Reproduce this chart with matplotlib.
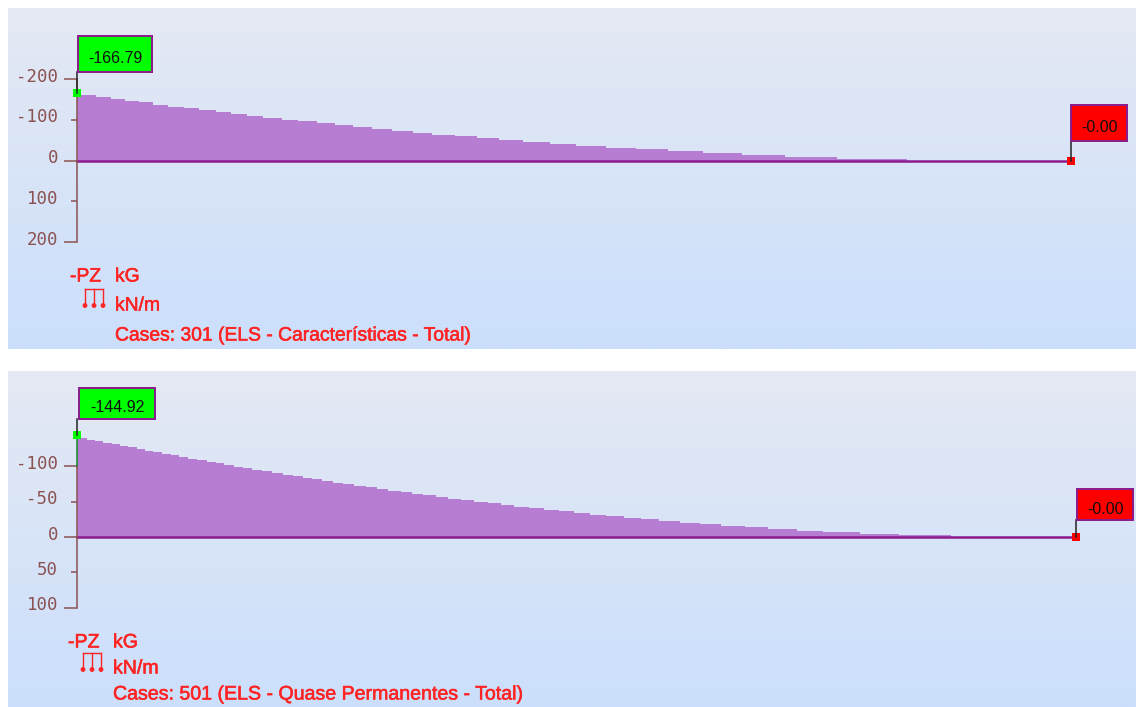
import numpy as np
import matplotlib
matplotlib.use('Agg')
import matplotlib.pyplot as plt
import matplotlib.patheffects as pe
from matplotlib.colors import LinearSegmentedColormap
from matplotlib.patches import Rectangle, Circle
from matplotlib.transforms import ScaledTranslation

# first diagram, load (kN/m) and where each step ends along the beam
stations_301 = [19, 34, 48, 62, 76, 91, 107, 122, 139, 154, 170, 186, 205, 221, 240, 258, 276, 295,
                315, 336, 355, 378, 400, 422, 446, 473, 499, 529, 559, 591, 626, 665, 708, 760, 830]
load_301 = [-161, -156, -152, -147, -143, -138, -133, -129, -124, -120, -115, -110, -106, -101, -97, -92, -87, -83,
            -78, -74, -69, -64, -60, -55, -51, -46, -41, -37, -32, -28, -23, -18, -14, -9, -5]
length_301 = 994
peak_301 = -166.79
ticks_301 = [-200, -100, 0, 100, 200]
short_301 = [-100, 100]
labels_301 = ['-200', '-100', '0', '100', '200']
title_301 = 'Cases: 301 (ELS - Características - Total)'

# second diagram
stations_501 = [10, 18, 26, 35, 43, 51, 60, 68, 76, 85, 94, 102, 111, 120, 130, 139, 147, 157, 166, 175, 185, 195,
                206, 216, 226, 235, 245, 256, 266, 277, 289, 300, 311, 324, 335, 346, 359, 371, 384, 397, 411,
                424, 437, 452, 467, 482, 497, 513, 529, 547, 564, 582, 603, 623, 644, 668, 691, 720, 746, 783, 822, 874]
load_501 = [-140.1, -137.9, -135.6, -133.3, -131.1, -128.8, -126.6, -124.3, -122.0, -119.8, -117.5, -115.3, -113.0,
            -110.7, -108.5, -106.2, -104.0, -101.7, -99.4, -97.2, -94.9, -92.7, -90.4, -88.1, -85.9, -83.6, -81.4,
            -79.1, -76.8, -74.6, -72.3, -70.1, -67.8, -65.5, -63.3, -61.0, -58.8, -56.5, -54.2, -52.0, -49.7, -47.5,
            -45.2, -42.9, -40.7, -38.4, -36.2, -33.9, -31.6, -29.4, -27.1, -24.9, -22.6, -20.3, -18.1, -15.8, -13.6,
            -11.3, -9.0, -6.8, -4.5, -2.3]
length_501 = 999
peak_501 = -144.92
ticks_501 = [-100, -50, 0, 50, 100]
short_501 = [-50, 50]
labels_501 = ['-100', '-50', '0', '50', '100']
title_501 = 'Cases: 501 (ELS - Quase Permanentes - Total)'

W, H = 1136, 707
BROWN = '#8B5252'
PURPLE = '#8A1A8E'
FILL = '#B77DD3'
RED = '#FF2424'
grad = LinearSegmentedColormap.from_list('bg', ['#E5E9F3', '#CBDFFC'])


def panel(fig, top, bottom, zero_y, scale, stations, load, length, peak, ticks, short, labels):
    # axes cover the whole panel, limits put the beam start at px 77
    ax = fig.add_axes([8 / W, 1 - bottom / H, (W - 8) / W, (bottom - top) / H])
    ax.imshow(np.linspace(0, 1, 256).reshape(-1, 1), cmap=grad, aspect='auto',
              extent=(0, 1, 0, 1), transform=ax.transAxes, zorder=0)
    ax.set_xlim(-69, W - 77)
    ax.set_ylim((bottom - zero_y) / scale, (top - zero_y) / scale)
    ax.patch.set_visible(False)

    xs = [0] + stations
    edges = np.repeat(xs, 2)[1:-1]
    ys = np.repeat(load, 2)
    ax.fill_between(edges, ys, 0, color=FILL, lw=0, zorder=2)
    ax.plot([0, length], [0, 0], color=PURPLE, lw=1.8, zorder=3)

    for name in ['top', 'right', 'bottom']:
        ax.spines[name].set_visible(False)
    ax.spines['left'].set_position(('data', 0))
    ax.spines['left'].set_bounds(ticks[0], ticks[-1])
    ax.spines['left'].set_color(BROWN)
    ax.spines['left'].set_linewidth(1.1)
    ax.spines['left'].set_zorder(4)
    ax.set_xticks([])
    ax.set_yticks(ticks)
    ax.set_yticklabels(labels, family='DejaVu Sans Mono', fontsize=12.5, color=BROWN)
    ax.tick_params(axis='y', length=9.4, width=1.1, color=BROWN, pad=4.3)
    for t, v in zip(ax.yaxis.get_major_ticks(), ticks):
        if v in short:
            t.tick1line.set_markersize(4.5)
    # labels sit a little above their ticks
    lift = ScaledTranslation(0, 4.5 / 100, fig.dpi_scale_trans)
    for lab in ax.get_yticklabels():
        lab.set_transform(lab.get_transform() + lift)
    if peak < ticks[0]:
        ax.plot([0, 0], [peak, ticks[0]], color='#118A22', lw=1.1, zorder=5)
    ax.plot(0, peak, 's', color='#00FF00', ms=5.8, mew=0, zorder=6)
    ax.plot(length, 0, 's', color='#FF0000', ms=5.8, mew=0, zorder=6)

    # flags sit on the overlay in pixels, their stems start at the markers
    return ax.transData.transform([(0, peak), (length, 0)])


def flag(over, anchor, x0, y0, x1, y1, color, text):
    ax_y = H - anchor[1]
    over.plot([anchor[0], anchor[0]], [ax_y, y1], color='#222222', lw=1.1, zorder=7)
    over.add_patch(Rectangle((x0, y0), x1 - x0, y1 - y0, fc=color, ec=PURPLE, lw=1.4, zorder=8))
    over.text((x0 + x1) / 2, (y0 + y1) / 2 + 4.5, text, ha='center', va='center', family='Liberation Sans',
              fontsize=11.5, color='#101010', zorder=9)


def legend(over, x, y1, y2, y3, title, size, sym_x, sym_y):
    kw = dict(family='Liberation Sans', fontsize=size, color=RED, va='center',
              path_effects=[pe.withStroke(linewidth=0.4, foreground=RED)])
    over.text(x - 45, y1, '-PZ', **kw)
    over.text(x, y1, 'kG', **kw)
    over.text(x, y2, 'kN/m', **kw)
    over.text(x, y3, title, **kw)
    over.plot([sym_x, sym_x + 18], [sym_y, sym_y], color=RED, lw=1)
    for dx in [0, 9, 18]:
        over.plot([sym_x + dx, sym_x + dx], [sym_y, sym_y + 15], color=RED, lw=1)
        over.add_patch(Circle((sym_x + dx, sym_y + 16.5), 2, fc=RED, ec=RED, lw=0.6))


def main():
    fig = plt.figure(figsize=(W / 100, H / 100), dpi=100, facecolor='white')
    over = fig.add_axes([0, 0, 1, 1], zorder=10)
    over.set_xlim(0, W)
    over.set_ylim(H, 0)
    over.axis('off')

    a = panel(fig, 8, 349, 160.7, 0.407, stations_301, load_301, length_301, peak_301,
              ticks_301, short_301, labels_301)
    b = panel(fig, 371, 707, 537, 0.707, stations_501, load_501, length_501, peak_501,
              ticks_501, short_501, labels_501)

    flag(over, a[0], 78, 36, 152, 72, '#00FF00', '-166.79')
    flag(over, a[1], 1071, 105, 1127, 141, '#FF0000', '-0.00')
    flag(over, b[0], 79, 388, 155, 419, '#00FF00', '-144.92')
    flag(over, b[1], 1077, 489, 1133, 520, '#FF0000', '-0.00')

    legend(over, 115, 277, 306, 336, title_301, 13.9, 85, 289)
    legend(over, 113, 642, 668, 694, title_501, 14.1, 83, 653)

    fig.savefig('out.png', dpi=100)


if __name__ == '__main__':
    main()
